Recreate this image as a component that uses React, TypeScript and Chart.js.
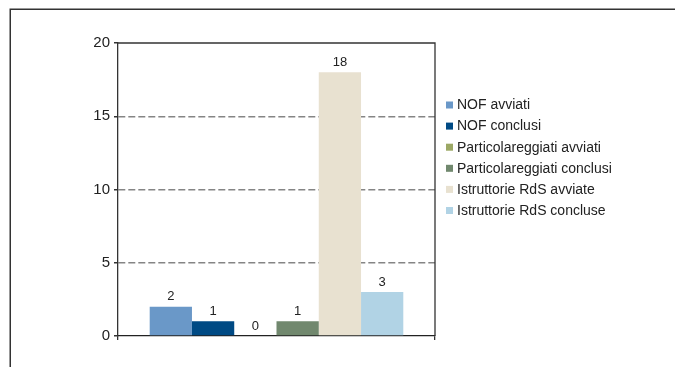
import React, { useEffect, useRef } from "react";
import { Chart, registerables } from "chart.js";

Chart.register(...registerables);

// One group of bars, one bar per series
const categories = [""];
const seriesNames = [
  "NOF avviati",
  "NOF conclusi",
  "Particolareggiati avviati",
  "Particolareggiati conclusi",
  "Istruttorie RdS avviate",
  "Istruttorie RdS concluse",
];
const seriesValues = [2, 1, 0, 1, 18, 3];
const seriesColors = ["#6A98C8", "#004A84", "#9CA865", "#71886E", "#E8E1D0", "#B1D3E5"];
const yTicks = [0, 5, 10, 15, 20];

const FONT = "'Liberation Sans', Arial, sans-serif";

// Outer frame, plot box, value labels and the legend column
const decorations = {
  id: "decorations",
  afterDatasetsDraw(chart: any) {
    const ctx = chart.ctx;
    ctx.save();
    ctx.font = `13px ${FONT}`;
    ctx.fillStyle = "#222";
    ctx.textAlign = "center";
    ctx.textBaseline = "alphabetic";
    chart.data.datasets.forEach((ds: any, i: number) => {
      const meta = chart.getDatasetMeta(i);
      meta.data.forEach((bar: any, j: number) => {
        ctx.fillText(String(ds.data[j]), bar.x, bar.y - 6.5);
      });
    });
    ctx.restore();
  },
  afterDraw(chart: any) {
    const ctx = chart.ctx;
    const a = chart.chartArea;
    ctx.save();
    // outer frame (top and left edges)
    ctx.strokeStyle = "#333";
    ctx.lineWidth = 1.5;
    ctx.beginPath();
    ctx.moveTo(10.25, chart.height);
    ctx.lineTo(10.25, 9.25);
    ctx.lineTo(chart.width, 9.25);
    ctx.stroke();

    // plot box top and right sides
    ctx.strokeStyle = "#333";
    ctx.lineWidth = 1.3;
    ctx.beginPath();
    ctx.moveTo(a.left, a.top);
    ctx.lineTo(a.right, a.top);
    ctx.lineTo(a.right, a.bottom);
    ctx.stroke();

    // legend
    const lx = 446;
    const ly0 = 105;
    const step = 21.1;
    ctx.font = `14px ${FONT}`;
    ctx.textAlign = "left";
    ctx.textBaseline = "middle";
    chart.data.datasets.forEach((ds: any, i: number) => {
      const y = ly0 + i * step;
      ctx.fillStyle = ds.backgroundColor;
      ctx.fillRect(lx, y - 3.5, 7, 7);
      ctx.fillStyle = "#222";
      ctx.fillText(ds.label, lx + 11, y + 0.5);
    });
    ctx.restore();
  },
};

export default function App() {
  const ref = useRef<HTMLCanvasElement>(null);

  useEffect(() => {
    if (!ref.current) return;
    const chart = new Chart(ref.current, {
      type: "bar",
      data: {
        labels: categories,
        datasets: seriesNames.map((name, i) => ({
          label: name,
          data: [seriesValues[i]],
          backgroundColor: seriesColors[i],
          borderWidth: 0,
        })),
      },
      options: {
        responsive: false,
        animation: false,
        devicePixelRatio: 1,
        layout: { padding: { left: 88, top: 43, right: 240, bottom: 21 } },
        plugins: { legend: { display: false }, tooltip: { enabled: false } },
        datasets: { bar: { categoryPercentage: 0.8, barPercentage: 1 } },
        scales: {
          x: {
            offset: true,
            ticks: { display: false },
            grid: {
              offset: true,
              drawOnChartArea: false,
              drawTicks: true,
              tickLength: 4,
              color: "#333",
              tickColor: "#333",
              lineWidth: 1.3,
            },
            border: { display: true, color: "#222", width: 1.3 },
            afterFit(scale: any) {
              scale.height = 10;
            },
          },
          y: {
            min: 0,
            max: 20,
            afterBuildTicks(scale: any) {
              scale.ticks = yTicks.map((v) => ({ value: v }));
            },
            ticks: {
              padding: 4,
              color: "#222",
              font: { family: FONT, size: 15 },
            },
            grid: {
              drawTicks: true,
              tickLength: 4,
              lineWidth: 1.5,
              color: (c: any) =>
                c.tick && (c.tick.value === 0 || c.tick.value === 20) ? "rgba(0,0,0,0)" : "#858585",
              tickColor: "#333",
            },
            border: { display: true, color: "#333", width: 1.3, dash: [7, 3] },
            afterFit(scale: any) {
              scale.width = 30;
            },
          },
        },
      },
      plugins: [decorations],
    });
    return () => chart.destroy();
  }, []);

  return (
    <div style={{ position: "fixed", left: 0, top: 0, width: 675, height: 367, background: "#fff" }}>
      <canvas ref={ref} width={675} height={367} style={{ display: "block" }} />
    </div>
  );
}
